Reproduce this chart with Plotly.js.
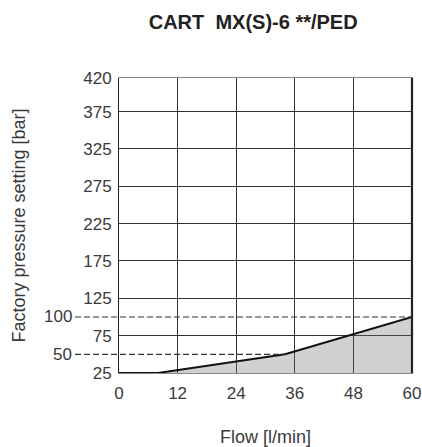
<!DOCTYPE html>
<html>
<head>
<meta charset="utf-8">
<script src="https://cdn.plot.ly/plotly-3.0.1.min.js"></script>
<style>html,body{margin:0;padding:0;background:#fff;}#chart{width:422px;height:447px;}</style>
</head>
<body>
<div id="chart"></div>
<script>
// ---- data ----
const flow = [0, 8, 34, 60];          // l/min
const pressure = [25, 25, 50, 100];   // bar
const xTickVals = [0, 12, 24, 36, 48, 60];
const yTickVals = [25, 75, 125, 175, 225, 275, 325, 375, 420];
const yTickText = ['25', '75', '125', '175', '225', '275', '325', '375', '420'];
const refLevels = [50, 100];
const refLabels = ['50', '100'];
const xRange = [0, 60];
const yRange = [25, 420];

function flowAt(level) {
  for (let i = 1; i < flow.length; i++) {
    if (pressure[i] >= level && pressure[i - 1] < level) {
      const t = (level - pressure[i - 1]) / (pressure[i] - pressure[i - 1]);
      return flow[i - 1] + t * (flow[i] - flow[i - 1]);
    }
  }
  return flow[flow.length - 1];
}

const tickFont = {family: 'Liberation Sans, Arial, sans-serif', size: 17, color: '#3a3a3a'};
const titleFont = {family: 'Liberation Sans, Arial, sans-serif', size: 18, color: '#3a3a3a'};
const lineStart = -0.15;
const labelX = -0.158;

const shapes = [];
const annotations = [];
refLevels.forEach((lv, i) => {
  shapes.push({
    type: 'line', xref: 'paper', yref: 'y',
    x0: lineStart, x1: (flowAt(lv) - xRange[0]) / (xRange[1] - xRange[0]),
    y0: lv, y1: lv,
    line: {color: '#333', width: 1.2, dash: '6px,3px'}, layer: 'above'
  });
  annotations.push({
    xref: 'paper', yref: 'y', x: labelX, y: lv, text: refLabels[i],
    showarrow: false, xanchor: 'right', yanchor: 'middle', font: tickFont,
    borderpad: 0
  });
});
// thicker right border
shapes.push({type: 'line', xref: 'paper', yref: 'paper', x0: 1, x1: 1, y0: 0, y1: 1,
  line: {color: '#222', width: 2.2}, layer: 'above'});

const traces = [{
  x: flow, y: pressure, type: 'scatter', mode: 'lines',
  fill: 'tozeroy', fillcolor: 'rgba(111,112,116,0.32)',
  line: {color: '#111', width: 2}, hoverinfo: 'skip', showlegend: false
}];

const layout = {
  width: 422, height: 447,
  margin: {l: 119, r: 10, t: 78, b: 74, pad: 0},
  paper_bgcolor: '#fff', plot_bgcolor: '#fff',
  showlegend: false,
  title: {
    text: 'CART  MX(S)-6 **/PED',
    font: {family: 'Liberation Sans, Arial, sans-serif', size: 20, color: '#222', weight: 'bold'},
    x: 0.458, xref: 'paper', xanchor: 'center',
    y: 1 - 22 / 447, yref: 'container', yanchor: 'middle'
  },
  xaxis: {
    range: xRange, tickvals: xTickVals, ticktext: xTickVals.map(String),
    showgrid: true, gridcolor: '#333', gridwidth: 1,
    zeroline: false, showline: true, linecolor: '#888', linewidth: 1, mirror: true,
    ticks: '', ticklabelstandoff: 5, ticklabeloverflow: 'allow', tickfont: tickFont,
    title: {text: 'Flow [l/min]', font: titleFont, standoff: 27},
    fixedrange: true
  },
  yaxis: {
    range: yRange, tickvals: yTickVals, ticktext: yTickText,
    showgrid: true, gridcolor: '#333', gridwidth: 1,
    zeroline: false, showline: true, linecolor: '#222', linewidth: 1, mirror: true,
    ticks: '', ticklabelstandoff: 3, tickfont: tickFont,
    title: {text: 'Factory pressure setting [bar]', font: titleFont, standoff: 52},
    fixedrange: true
  },
  shapes: shapes,
  annotations: annotations
};

Plotly.newPlot('chart', traces, layout, {displayModeBar: false, staticPlot: true});
</script>
</body>
</html>
